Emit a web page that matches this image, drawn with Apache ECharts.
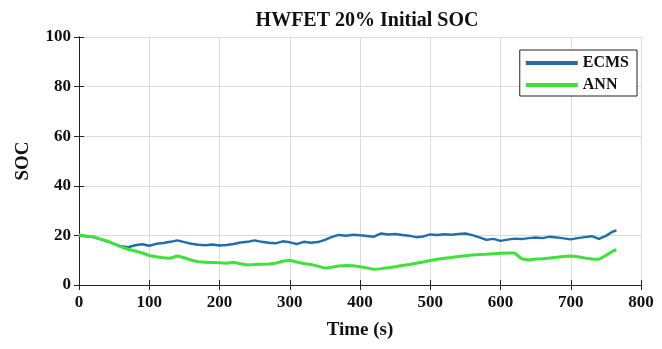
<!DOCTYPE html>
<html>
<head>
<meta charset="utf-8">
<script src="https://cdn.jsdelivr.net/npm/echarts@6/dist/echarts.min.js"></script>
<style>
  html, body { margin: 0; padding: 0; background: #fff; }
  #chart { width: 662px; height: 349px; }
</style>
</head>
<body>
<div id="chart"></div>
<script>
// time in seconds
const timeSec = [
  0, 10, 20, 30, 40, 50, 60, 70, 80, 90,
  100, 110, 120, 130, 140, 150, 160, 170, 180, 190,
  200, 210, 220, 230, 240, 250, 260, 270, 280, 290,
  300, 310, 320, 330, 340, 350, 360, 370, 380, 390,
  400, 410, 420, 430, 440, 450, 460, 470, 480, 490,
  500, 510, 520, 530, 540, 550, 560, 570, 580, 590,
  600, 610, 620, 630, 640, 650, 660, 670, 680, 690,
  700, 710, 720, 730, 740, 750, 760, 765
];

const ecmsSoc = [
  20.0, 19.7, 19.3, 18.5, 17.6, 16.6, 15.6, 15.2, 16.0, 16.4,
  15.8, 16.6, 16.9, 17.4, 18.0, 17.3, 16.6, 16.2, 16.0, 16.3,
  15.9, 16.1, 16.5, 17.1, 17.4, 18.0, 17.4, 17.0, 16.8, 17.6,
  17.2, 16.5, 17.4, 17.0, 17.3, 18.2, 19.4, 20.2, 19.9, 20.3,
  20.1, 19.8, 19.5, 20.8, 20.4, 20.6, 20.2, 19.9, 19.3, 19.6,
  20.4, 20.2, 20.5, 20.3, 20.6, 20.8, 20.1, 19.2, 18.2, 18.6,
  17.8, 18.3, 18.7, 18.5, 18.9, 19.2, 18.9, 19.5, 19.2, 18.8,
  18.4, 18.9, 19.3, 19.7, 18.6, 19.8, 21.6, 22.0
];

const annSoc = [
  20.2, 19.8, 19.5, 18.6, 17.8, 16.6, 15.4, 14.4, 13.7, 12.9,
  11.9, 11.4, 11.0, 10.8, 11.7, 11.0, 10.0, 9.4, 9.2, 9.1,
  9.0, 8.8, 9.2, 8.6, 8.1, 8.3, 8.4, 8.5, 8.8, 9.6,
  10.0, 9.3, 8.7, 8.3, 7.6, 6.8, 7.2, 7.7, 7.9, 7.8,
  7.4, 6.9, 6.3, 6.6, 7.0, 7.4, 7.9, 8.3, 8.8, 9.3,
  9.9, 10.4, 10.8, 11.1, 11.5, 11.8, 12.1, 12.3, 12.4, 12.6,
  12.8, 12.9, 12.9, 10.6, 10.1, 10.5, 10.6, 10.9, 11.2, 11.5,
  11.7, 11.4, 10.9, 10.5, 10.4, 11.9, 13.7, 14.2
];

const xTicks = [0, 100, 200, 300, 400, 500, 600, 700, 800];
const yTicks = [0, 20, 40, 60, 80, 100];

const serif = "'Liberation Serif', 'DejaVu Serif', serif";
const labelStyle = { fontFamily: serif, fontWeight: "bold", fontSize: 17, color: "#111" };

const pairs = (ys) => timeSec.map((t, i) => [t, ys[i]]);

const chart = echarts.init(document.getElementById("chart"), undefined, { renderer: "canvas" });

const hiddenAxis = {
  axisLabel: { show: false },
  axisTick: { show: true, inside: true, length: 5, lineStyle: { color: "#222" } },
  axisLine: { show: true, lineStyle: { color: "#222", width: 1 } },
  splitLine: { show: false },
};

chart.setOption({
  animation: false,
  title: {
    text: "HWFET 20% Initial SOC",
    left: 362,
    textAlign: "center",
    top: 6,
    textStyle: { fontFamily: serif, fontWeight: "bold", fontSize: 20, color: "#111" },
  },
  grid: { left: 79, right: 21, top: 37, bottom: 64 },
  legend: {
    orient: "vertical",
    right: 25,
    top: 50,
    backgroundColor: "#fff",
    borderColor: "#222",
    borderWidth: 1,
    padding: [5, 8, 3, 6],
    itemGap: 6,
    itemWidth: 52,
    itemHeight: 4,
    icon: "rect",
    textStyle: { fontFamily: serif, fontWeight: "bold", fontSize: 16, color: "#111" },
    data: ["ECMS", "ANN"],
  },
  xAxis: [
    {
      type: "value",
      min: 0,
      max: 800,
      interval: 100,
      name: "Time (s)",
      nameLocation: "middle",
      nameGap: 36,
      nameTextStyle: { fontFamily: serif, fontWeight: "bold", fontSize: 19, color: "#111" },
      axisLabel: Object.assign({ margin: 9 }, labelStyle),
      axisTick: { show: true, inside: true, length: 5, lineStyle: { color: "#222" } },
      axisLine: { show: true, lineStyle: { color: "#222", width: 1 } },
      splitLine: { show: true, lineStyle: { color: "#dcdcdc", width: 1 } },
    },
    Object.assign({ type: "value", position: "top", min: 0, max: 800, interval: 100 }, hiddenAxis),
  ],
  yAxis: [
    {
      type: "value",
      min: 0,
      max: 100,
      interval: 20,
      name: "SOC",
      nameLocation: "middle",
      nameGap: 46,
      nameTextStyle: { fontFamily: serif, fontWeight: "bold", fontSize: 19, color: "#111" },
      axisLabel: Object.assign({ margin: 8 }, labelStyle),
      axisTick: { show: true, inside: true, length: 5, lineStyle: { color: "#222" } },
      axisLine: { show: true, lineStyle: { color: "#222", width: 1 } },
      splitLine: { show: true, lineStyle: { color: "#dcdcdc", width: 1 } },
    },
    Object.assign({ type: "value", position: "right", min: 0, max: 100, interval: 20 }, hiddenAxis),
  ],
  series: [
    {
      name: "ECMS",
      type: "line",
      showSymbol: false,
      color: "#1f6fae",
      lineStyle: { width: 2.5 },
      data: pairs(ecmsSoc),
      z: 2,
    },
    {
      name: "ANN",
      type: "line",
      showSymbol: false,
      color: "#3ee23a",
      lineStyle: { width: 3 },
      data: pairs(annSoc),
      z: 3,
    },
  ],
});
</script>
</body>
</html>
